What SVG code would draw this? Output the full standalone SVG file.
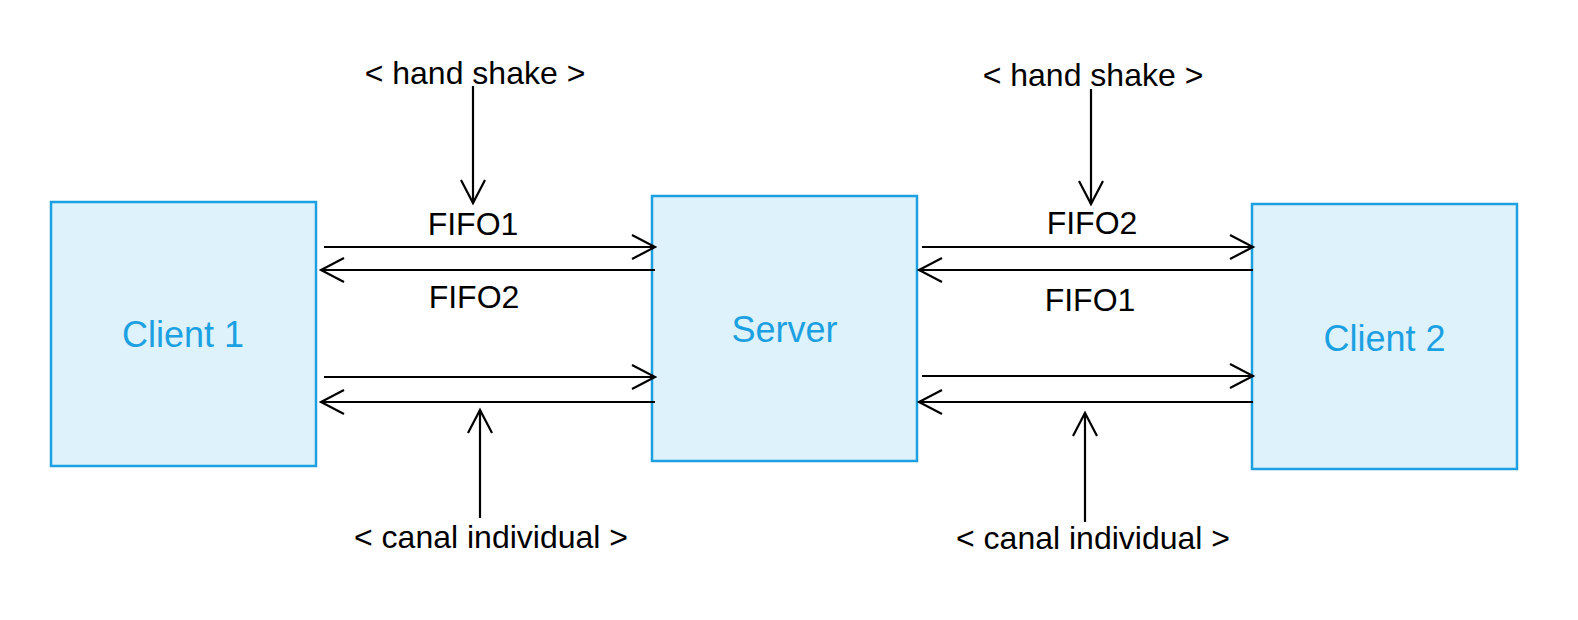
<svg xmlns="http://www.w3.org/2000/svg" width="1578" height="620" viewBox="0 0 1578 620">
<defs>
<marker id="arr" markerUnits="userSpaceOnUse" markerWidth="30" markerHeight="30" viewBox="-26 -15 30 30" refX="0" refY="0" orient="auto">
<path d="M-23,-12 L0,0 L-23,12" fill="none" stroke="#000" stroke-width="2.2"/>
</marker>
</defs>
<style>
.box{fill:#def2fc;stroke:#1ba1e2;stroke-width:2.5}
.nl{font-family:"Liberation Sans",Arial,sans-serif;font-size:36px;fill:#1ba1e2;text-anchor:middle}
.lbl{font-family:"Liberation Sans",Arial,sans-serif;font-size:32px;fill:#000;text-anchor:middle}
.c{stroke:#000;stroke-width:2.2;fill:none;marker-end:url(#arr)}
</style>
<rect width="1578" height="620" fill="#fff"/>
<g id="client1">
<rect class="box" x="51" y="202" width="265" height="264"/>
<text class="nl" x="183" y="347">Client 1</text>
</g>
<g id="server">
<rect class="box" x="652" y="196" width="265" height="265"/>
<text class="nl" x="784.5" y="342">Server</text>
</g>
<g id="client2">
<rect class="box" x="1252" y="204" width="265" height="265"/>
<text class="nl" x="1384.5" y="351">Client 2</text>
</g>
<g id="connectors">
<line class="c" x1="324" y1="247" x2="655" y2="247"/>
<line class="c" x1="655" y1="270" x2="321" y2="270"/>
<line class="c" x1="324" y1="377" x2="655" y2="377"/>
<line class="c" x1="655" y1="402" x2="321" y2="402"/>
<line class="c" x1="922" y1="247" x2="1253" y2="247"/>
<line class="c" x1="1253" y1="270" x2="919" y2="270"/>
<line class="c" x1="922" y1="376" x2="1253" y2="376"/>
<line class="c" x1="1253" y1="402" x2="919" y2="402"/>
<line class="c" x1="473" y1="86" x2="473" y2="203"/>
<line class="c" x1="1091" y1="89" x2="1091" y2="204"/>
<line class="c" x1="480" y1="518" x2="480" y2="410"/>
<line class="c" x1="1085" y1="522" x2="1085" y2="413"/>
</g>
<g id="labels">
<text class="lbl" x="473" y="235">FIFO1</text>
<text class="lbl" x="474" y="308">FIFO2</text>
<text class="lbl" x="1092" y="234">FIFO2</text>
<text class="lbl" x="1090" y="311">FIFO1</text>
<text class="lbl" x="475" y="84">&lt; hand shake &gt;</text>
<text class="lbl" x="1093" y="86">&lt; hand shake &gt;</text>
<text class="lbl" x="491" y="548">&lt; canal individual &gt;</text>
<text class="lbl" x="1093" y="549">&lt; canal individual &gt;</text>
</g>
</svg>
